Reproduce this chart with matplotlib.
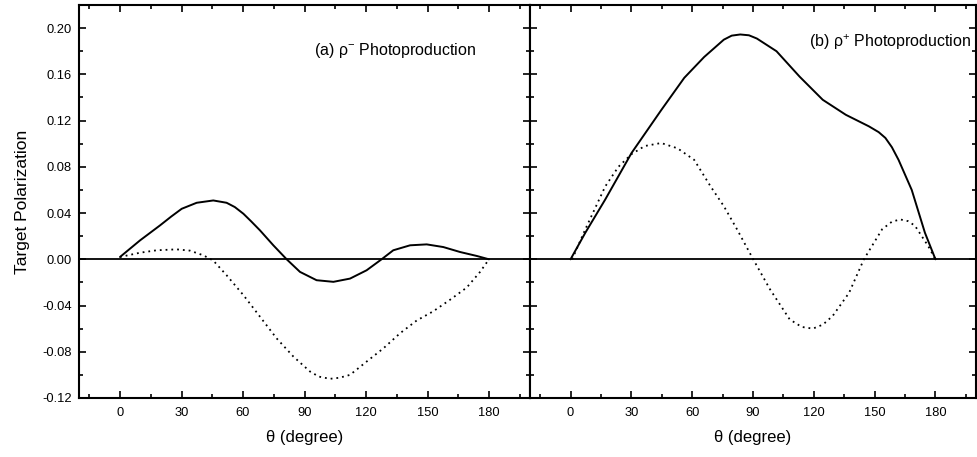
import matplotlib
matplotlib.use("Agg")
import matplotlib.pyplot as plt
from matplotlib.ticker import MultipleLocator, FormatStrFormatter

plt.rcParams['font.family'] = ['Liberation Sans', 'DejaVu Sans']
plt.rcParams['mathtext.fontset'] = 'custom'
plt.rcParams['mathtext.rm'] = 'Liberation Sans'
plt.rcParams['mathtext.it'] = 'Liberation Sans'

# Panel (a): rho- photoproduction
a_solid_theta = [0, 9.8, 19.5, 25, 30.1, 37.4, 45.5, 52, 56, 60.2, 64, 68.3, 74.8, 81.3, 87.8, 95.9,
                 104.1, 112.2, 120.3, 127.6, 133.3, 141.5, 149.6, 157.7, 165.9, 174, 180]
a_solid_pol = [0.002, 0.0164, 0.0293, 0.037, 0.0437, 0.0489, 0.0509, 0.0489, 0.0452, 0.0394, 0.0328,
               0.025, 0.0121, 0.0, -0.0109, -0.0181, -0.0195, -0.0167, -0.0095, 0.0, 0.0078, 0.0121,
               0.0129, 0.0106, 0.0063, 0.0029, 0.0]
a_dot_theta = [0, 9.8, 17.9, 27.6, 34.1, 40.7, 45.5, 52, 60.2, 68.3, 76.4, 84.6, 92.7, 97, 102.4,
               107, 112.2, 120.3, 128.5, 136.6, 144.7, 152.8, 161, 169.1, 175.6, 180]
a_dot_pol = [0.002, 0.0057, 0.0078, 0.0086, 0.0075, 0.0034, -0.0011, -0.0138, -0.031, -0.0497,
             -0.0684, -0.0842, -0.0971, -0.1015, -0.1034, -0.1025, -0.1, -0.0885, -0.077, -0.064,
             -0.053, -0.045, -0.035, -0.0245, -0.011, 0.0]

# Panel (b): rho+ photoproduction
b_solid_theta = [0, 7.3, 17.1, 30.1, 44.7, 56.1, 65.9, 75.6, 79.5, 83.7, 88, 91.9, 101.6, 113, 124.4,
                 135.8, 147.2, 152, 155.3, 158.5, 161.8, 168.3, 174.8, 180]
b_solid_pol = [0.0, 0.023, 0.0517, 0.092, 0.129, 0.157, 0.175, 0.19, 0.1935, 0.1945, 0.1938, 0.191,
               0.18, 0.158, 0.138, 0.125, 0.115, 0.11, 0.105, 0.097, 0.086, 0.06, 0.023, 0.0]
b_dot_theta = [0.8, 7.3, 17.1, 23.6, 30.1, 36.6, 44.7, 52.8, 61, 69.1, 75.6, 82.1, 90.1, 98.4,
               108.1, 114, 119.5, 124.5, 129.3, 137.4, 144.7, 153.7, 158.5, 162.6, 166.5, 169.9, 176.4, 180]
b_dot_pol = [0.0, 0.026, 0.063, 0.08, 0.091, 0.098, 0.1006, 0.096, 0.086, 0.063, 0.046, 0.026,
             0.0, -0.026, -0.052, -0.0585, -0.06, -0.0565, -0.049, -0.029, 0.0, 0.026, 0.0325,
             0.0345, 0.033, 0.029, 0.0115, 0.0]

x_ticks = [0, 30, 60, 90, 120, 150, 180]
y_ticks = [-0.12, -0.08, -0.04, 0.00, 0.04, 0.08, 0.12, 0.16, 0.20]

fig = plt.figure(figsize=(9.77, 4.57), dpi=100)
L, R, B, T = 79/977, 976/977, 1 - 398/457, 1 - 5/457
mid = 530/977
axa = fig.add_axes([L, B, mid - L, T - B])
axb = fig.add_axes([mid, B, R - mid, T - B])

panels = [
    (axa, a_solid_theta, a_solid_pol, a_dot_theta, a_dot_pol, r'(a) ρ$^{-}$ Photoproduction', 0.88, 0.885),
    (axb, b_solid_theta, b_solid_pol, b_dot_theta, b_dot_pol, r'(b) ρ$^{+}$ Photoproduction', 0.99, 0.905),
]
for ax, st, sp, dt, dp, label, lx, ly in panels:
    ax.axhline(0, color='black', lw=1.3, zorder=1)
    ax.plot(st, sp, color='black', lw=1.4, solid_capstyle='round', solid_joinstyle='round')
    ax.plot(dt, dp, color='black', lw=1.3, linestyle=(0, (1, 2.2)))
    ax.set_xlim(-20, 200)
    ax.set_ylim(-0.12, 0.22)
    ax.xaxis.set_major_locator(MultipleLocator(30))
    ax.xaxis.set_minor_locator(MultipleLocator(15))
    ax.yaxis.set_major_locator(MultipleLocator(0.04))
    ax.yaxis.set_minor_locator(MultipleLocator(0.02))
    ax.set_xticks(x_ticks)
    ax.tick_params(which='both', direction='in', top=True, right=True, width=1.2, labelsize=9.3)
    ax.tick_params(which='major', length=5)
    ax.tick_params(which='minor', length=3)
    ax.tick_params(axis='x', pad=6.5)
    ax.tick_params(axis='y', pad=5)
    for s in ax.spines.values():
        s.set_linewidth(1.5)
    ax.set_xlabel('θ (degree)', fontsize=12, labelpad=8)
    ax.text(lx, ly, label, transform=ax.transAxes, ha='right', va='center', fontsize=11.5)

axa.set_yticks(y_ticks)
axa.yaxis.set_major_formatter(FormatStrFormatter('%.2f'))
axa.set_ylabel('Target Polarization', fontsize=12.5, labelpad=9)
axb.set_yticks(y_ticks)
axb.tick_params(labelleft=False)

fig.savefig('out.png', dpi=100)
